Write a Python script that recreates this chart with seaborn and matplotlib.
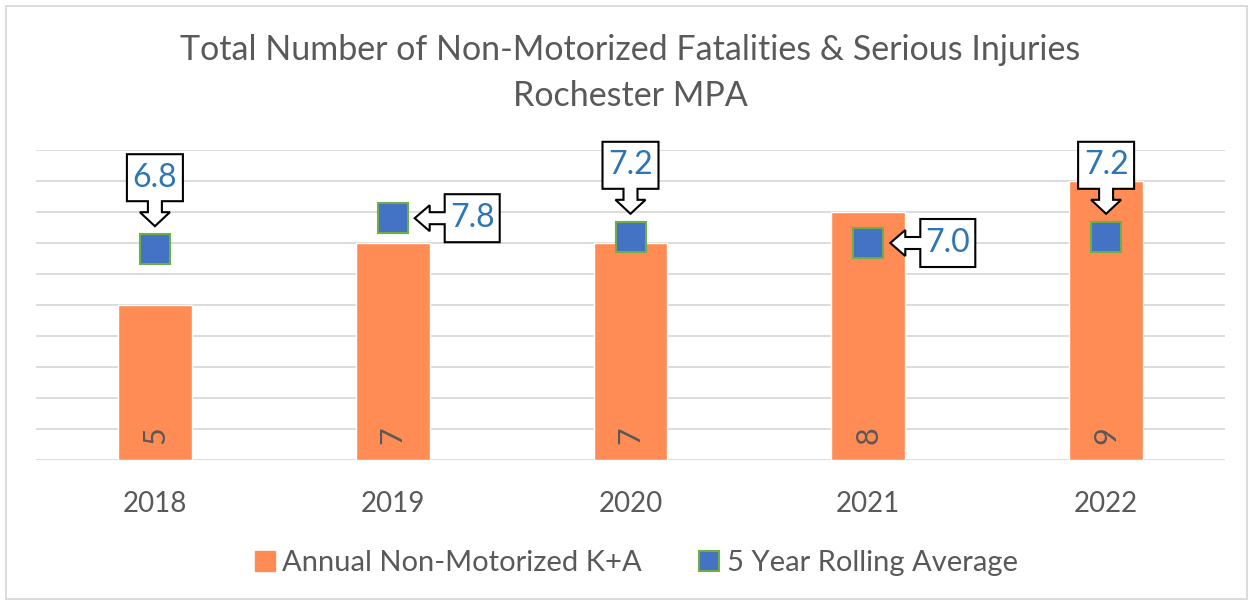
import numpy as np
import pandas as pd
import seaborn as sns
import matplotlib.pyplot as plt
from matplotlib.lines import Line2D
from matplotlib.patches import Polygon, Rectangle
from matplotlib.transforms import Affine2D, ScaledTranslation

sns.set_theme(style="white")
plt.rcParams['font.family'] = ['Lato', 'DejaVu Sans']

years = ["2018", "2019", "2020", "2021", "2022"]
annual_ka = [5, 7, 7, 8, 9]
rolling_avg = [6.8, 7.8, 7.2, 7.0, 7.2]
callout_side = ["down", "left", "down", "left", "down"]

bar_color = "#FF8C55"
marker_color = "#4472C4"
marker_edge = "#70AD47"
text_gray = "#595959"
label_blue = "#2E75B6"
grid_gray = "#D9D9D9"

df = pd.DataFrame({"year": years, "count": annual_ka, "avg": rolling_avg})

dpi = 100
fig = plt.figure(figsize=(12.53, 6.03), dpi=dpi)
ax = fig.add_axes([36 / 1253, 1 - 460 / 603, (1225 - 36) / 1253, 310 / 603])

sns.barplot(data=df, x="year", y="count", color=bar_color, saturation=1,
            width=0.31, ax=ax, zorder=2)
ax.plot(range(len(years)), rolling_avg, linestyle="none", marker="s",
        markersize=22, markerfacecolor=marker_color, markeredgecolor=marker_edge,
        markeredgewidth=1.5, zorder=4)

ax.set_ylim(0, 10)
ax.set_xlim(-0.5, len(years) - 0.5)
ax.set_yticks(np.arange(0, 11, 1))
ax.set_yticklabels([])
ax.tick_params(axis="y", length=0)
ax.tick_params(axis="x", length=0, labelsize=20, labelcolor=text_gray, pad=22)
ax.yaxis.grid(True, color=grid_gray, linewidth=1.3, zorder=0)
ax.set_axisbelow(True)
ax.set_xlabel("")
ax.set_ylabel("")
for s in ax.spines.values():
    s.set_visible(False)

# value labels inside the bar bases, rotated
for i, v in enumerate(annual_ka):
    ax.text(i, 0.8, str(v), rotation=90, ha="center", va="center",
            fontsize=22, color=text_gray, zorder=3)

# callout shapes, in pixels relative to the marker centre
down_shape = [(-28, 95), (28, 95), (28, 48), (7, 48), (7, 37), (15, 37),
              (0, 23), (-15, 37), (-7, 37), (-7, 48), (-28, 48)]
left_shape = [(22, 0), (37, 13), (37, 6), (52, 6), (52, 24), (107, 24),
              (107, -24), (52, -24), (52, -6), (37, -6), (37, -13)]
down_text = (0, 71.5)
left_text = (79.5, 0)

for i, (v, side) in enumerate(zip(rolling_avg, callout_side)):
    trans = (Affine2D().scale(1 / dpi) + fig.dpi_scale_trans
             + ScaledTranslation(i, v, ax.transData))
    shape = down_shape if side == "down" else left_shape
    tpos = down_text if side == "down" else left_text
    ax.add_patch(Polygon(shape, closed=True, facecolor="white",
                         edgecolor="black", linewidth=1.5, transform=trans,
                         zorder=5, clip_on=False))
    ax.text(tpos[0], tpos[1], f"{v:.1f}", transform=trans, ha="center",
            va="center", fontsize=23, color=label_blue, zorder=6)

fig.text(0.503, 1 - 50 / 603, "Total Number of Non-Motorized Fatalities & Serious Injuries",
         ha="center", va="center", fontsize=24.5, color=text_gray)
fig.text(0.503, 1 - 96 / 603, "Rochester MPA",
         ha="center", va="center", fontsize=24.5, color=text_gray)

handles = [
    Line2D([], [], linestyle="none", marker="s", markersize=14,
           markerfacecolor=bar_color, markeredgecolor=bar_color),
    Line2D([], [], linestyle="none", marker="s", markersize=14,
           markerfacecolor=marker_color, markeredgecolor=marker_edge,
           markeredgewidth=1.5),
]
fig.legend(handles, ["Annual Non-Motorized K+A", "5 Year Rolling Average"],
           loc="center", bbox_to_anchor=(0.507, 1 - 563 / 603), ncol=2,
           frameon=False, fontsize=21, labelcolor=text_gray,
           handletextpad=0.2, columnspacing=1.9, handlelength=0.8)

fig.add_artist(Rectangle((6 / 1253, 4 / 603), 1241 / 1253, 593 / 603,
                         transform=fig.transFigure, fill=False,
                         edgecolor=grid_gray, linewidth=1.3))

fig.savefig("out.png", dpi=dpi)
